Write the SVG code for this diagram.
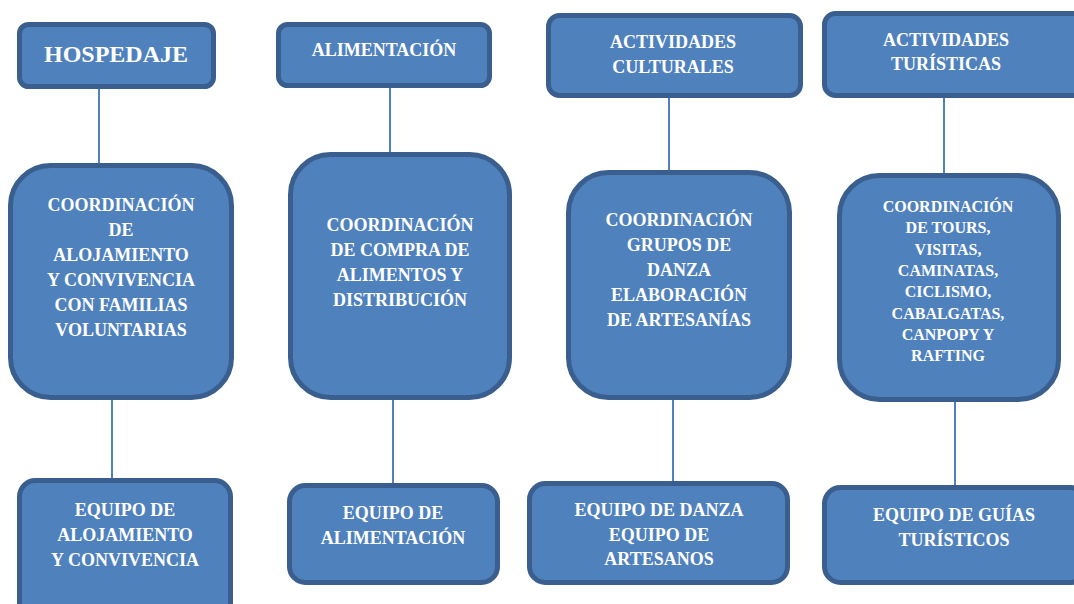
<svg xmlns="http://www.w3.org/2000/svg" width="1074" height="604" viewBox="0 0 1074 604">
<style>
.b{fill:#4F81BD;stroke:#3A5F8E;stroke-width:5}
.t{font-family:'Liberation Serif','DejaVu Serif',serif;font-weight:bold;font-size:18px;fill:#FFFFFF;text-anchor:middle}
.s{font-size:16px}
.h{font-size:24px}
.c{stroke:#4F81BD;stroke-width:2;fill:none}
</style>
<rect width="1074" height="604" fill="#FFFFFF"/>
<g id="connectors">
<line class="c" x1="99" y1="89" x2="99" y2="164"/>
<line class="c" x1="390" y1="88" x2="390" y2="153"/>
<line class="c" x1="669" y1="98" x2="669" y2="171"/>
<line class="c" x1="944" y1="98" x2="944" y2="175"/>
<line class="c" x1="112" y1="400" x2="112" y2="480"/>
<line class="c" x1="393" y1="400" x2="393" y2="484"/>
<line class="c" x1="673" y1="400" x2="673" y2="482"/>
<line class="c" x1="955" y1="402" x2="955" y2="486"/>
</g>
<g id="hospedaje">
<rect class="b" x="19.5" y="24.5" width="194" height="62" rx="9"/>
<text class="t h" x="116" y="62">HOSPEDAJE</text>
</g>
<g id="alimentacion">
<rect class="b" x="278.5" y="24.5" width="211" height="61" rx="9"/>
<text class="t" x="384" y="56">ALIMENTACIÓN</text>
</g>
<g id="culturales">
<rect class="b" x="548.5" y="15.5" width="252" height="80" rx="11"/>
<text class="t" x="673" y="48">ACTIVIDADES</text>
<text class="t" x="673" y="73">CULTURALES</text>
</g>
<g id="turisticas">
<rect class="b" x="824.5" y="13.5" width="260" height="82" rx="11"/>
<text class="t" x="946" y="46">ACTIVIDADES</text>
<text class="t" x="946" y="70">TURÍSTICAS</text>
</g>
<g id="coord-alojamiento">
<rect class="b" x="10.5" y="165.5" width="221" height="232" rx="40"/>
<text class="t" x="121" y="211">COORDINACIÓN</text>
<text class="t" x="121" y="236">DE</text>
<text class="t" x="121" y="261">ALOJAMIENTO</text>
<text class="t" x="121" y="286">Y CONVIVENCIA</text>
<text class="t" x="121" y="311">CON FAMILIAS</text>
<text class="t" x="121" y="336">VOLUNTARIAS</text>
</g>
<g id="coord-compra">
<rect class="b" x="290.5" y="154.5" width="219" height="243" rx="40"/>
<text class="t" x="400" y="231">COORDINACIÓN</text>
<text class="t" x="400" y="256">DE COMPRA DE</text>
<text class="t" x="400" y="281">ALIMENTOS Y</text>
<text class="t" x="400" y="306">DISTRIBUCIÓN</text>
</g>
<g id="coord-danza">
<rect class="b" x="568.5" y="172.5" width="221" height="225" rx="40"/>
<text class="t" x="679" y="226">COORDINACIÓN</text>
<text class="t" x="679" y="251">GRUPOS DE</text>
<text class="t" x="679" y="276">DANZA</text>
<text class="t" x="679" y="301">ELABORACIÓN</text>
<text class="t" x="679" y="326">DE ARTESANÍAS</text>
</g>
<g id="coord-tours">
<rect class="b" x="839.5" y="175.5" width="219" height="224" rx="40"/>
<text class="t s" x="948" y="212">COORDINACIÓN</text>
<text class="t s" x="948" y="233.3">DE TOURS,</text>
<text class="t s" x="948" y="254.6">VISITAS,</text>
<text class="t s" x="948" y="275.9">CAMINATAS,</text>
<text class="t s" x="948" y="297.2">CICLISMO,</text>
<text class="t s" x="948" y="318.5">CABALGATAS,</text>
<text class="t s" x="948" y="339.8">CANPOPY Y</text>
<text class="t s" x="948" y="361">RAFTING</text>
</g>
<g id="equipo-alojamiento">
<rect class="b" x="19.5" y="480.5" width="211" height="140" rx="16"/>
<text class="t" x="125" y="516">EQUIPO DE</text>
<text class="t" x="125" y="541">ALOJAMIENTO</text>
<text class="t" x="125" y="566">Y CONVIVENCIA</text>
</g>
<g id="equipo-alimentacion">
<rect class="b" x="289.5" y="485.5" width="208" height="97" rx="16"/>
<text class="t" x="393" y="519">EQUIPO DE</text>
<text class="t" x="393" y="544">ALIMENTACIÓN</text>
</g>
<g id="equipo-danza">
<rect class="b" x="529.5" y="483.5" width="258" height="99" rx="16"/>
<text class="t" x="659" y="516">EQUIPO DE DANZA</text>
<text class="t" x="659" y="541">EQUIPO DE</text>
<text class="t" x="659" y="565">ARTESANOS</text>
</g>
<g id="equipo-guias">
<rect class="b" x="824.5" y="487.5" width="262" height="95" rx="16"/>
<text class="t" x="954" y="521">EQUIPO DE GUÍAS</text>
<text class="t" x="954" y="546">TURÍSTICOS</text>
</g>
</svg>
